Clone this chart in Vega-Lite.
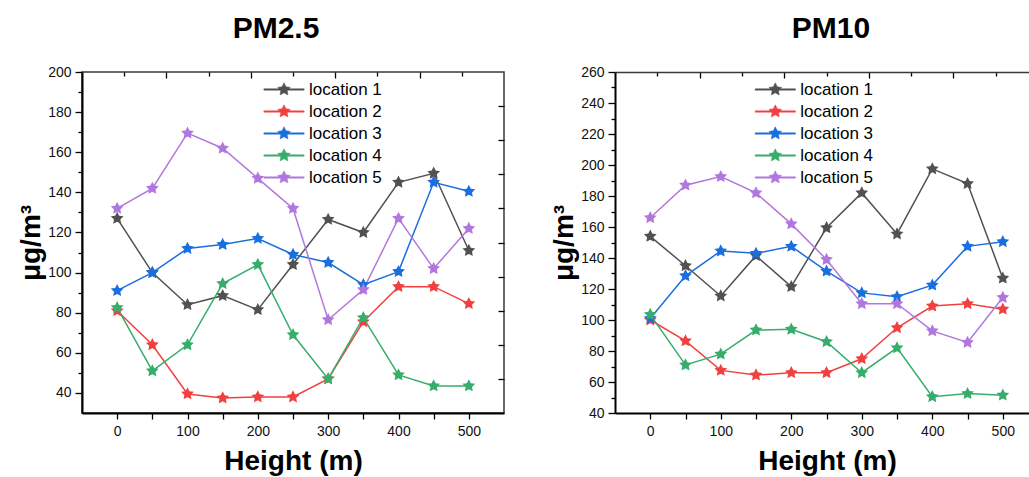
{
  "$schema": "https://vega.github.io/schema/vega-lite/v6.json",
  "padding": {"left": 16, "top": 12, "right": 0, "bottom": 0},
  "background": "white",
  "config": {
    "font": "Liberation Sans",
    "view": {"stroke": "#3a3a3a", "strokeWidth": 1.5},
    "axis": {"grid": false, "labelFont": "Liberation Sans", "labelFontSize": 14, "labelColor": "#111", "titleFont": "Liberation Sans", "titleFontSize": 28, "titleFontWeight": "bold", "titleColor": "black", "domainColor": "black", "domainWidth": 2, "tickColor": "black", "tickWidth": 1.3},
    "legend": {"labelFont": "Liberation Sans", "labelFontSize": 17, "labelColor": "black"},
    "title": {"font": "Liberation Sans", "fontSize": 30, "fontWeight": "bold", "color": "black", "baseline": "alphabetic"}
  },
  "datasets": {
    "pm25": [
      {"h": 0, "loc": "location 1", "v": 127}, {"h": 50, "loc": "location 1", "v": 100}, {"h": 100, "loc": "location 1", "v": 84}, {"h": 150, "loc": "location 1", "v": 88.5}, {"h": 200, "loc": "location 1", "v": 81.5}, {"h": 250, "loc": "location 1", "v": 104}, {"h": 300, "loc": "location 1", "v": 126.5}, {"h": 350, "loc": "location 1", "v": 120}, {"h": 400, "loc": "location 1", "v": 145}, {"h": 450, "loc": "location 1", "v": 149.5}, {"h": 500, "loc": "location 1", "v": 111},
      {"h": 0, "loc": "location 2", "v": 81}, {"h": 50, "loc": "location 2", "v": 64}, {"h": 100, "loc": "location 2", "v": 39.5}, {"h": 150, "loc": "location 2", "v": 37.5}, {"h": 200, "loc": "location 2", "v": 38}, {"h": 250, "loc": "location 2", "v": 38}, {"h": 300, "loc": "location 2", "v": 47}, {"h": 350, "loc": "location 2", "v": 75.5}, {"h": 400, "loc": "location 2", "v": 93}, {"h": 450, "loc": "location 2", "v": 93}, {"h": 500, "loc": "location 2", "v": 84.5},
      {"h": 0, "loc": "location 3", "v": 91}, {"h": 50, "loc": "location 3", "v": 100}, {"h": 100, "loc": "location 3", "v": 112}, {"h": 150, "loc": "location 3", "v": 114}, {"h": 200, "loc": "location 3", "v": 117}, {"h": 250, "loc": "location 3", "v": 109}, {"h": 300, "loc": "location 3", "v": 105}, {"h": 350, "loc": "location 3", "v": 94}, {"h": 400, "loc": "location 3", "v": 100.5}, {"h": 450, "loc": "location 3", "v": 145}, {"h": 500, "loc": "location 3", "v": 140.5},
      {"h": 0, "loc": "location 4", "v": 82.5}, {"h": 50, "loc": "location 4", "v": 51}, {"h": 100, "loc": "location 4", "v": 64}, {"h": 150, "loc": "location 4", "v": 94.5}, {"h": 200, "loc": "location 4", "v": 104}, {"h": 250, "loc": "location 4", "v": 69}, {"h": 300, "loc": "location 4", "v": 47}, {"h": 350, "loc": "location 4", "v": 77.5}, {"h": 400, "loc": "location 4", "v": 49}, {"h": 450, "loc": "location 4", "v": 43.5}, {"h": 500, "loc": "location 4", "v": 43.5},
      {"h": 0, "loc": "location 5", "v": 132}, {"h": 50, "loc": "location 5", "v": 142}, {"h": 100, "loc": "location 5", "v": 169.5}, {"h": 150, "loc": "location 5", "v": 162}, {"h": 200, "loc": "location 5", "v": 147}, {"h": 250, "loc": "location 5", "v": 132}, {"h": 300, "loc": "location 5", "v": 76.5}, {"h": 350, "loc": "location 5", "v": 91.5}, {"h": 400, "loc": "location 5", "v": 127}, {"h": 450, "loc": "location 5", "v": 102}, {"h": 500, "loc": "location 5", "v": 122}
    ],
    "pm10": [
      {"h": 0, "loc": "location 1", "v": 154}, {"h": 50, "loc": "location 1", "v": 135}, {"h": 100, "loc": "location 1", "v": 115.5}, {"h": 150, "loc": "location 1", "v": 141.5}, {"h": 200, "loc": "location 1", "v": 121.5}, {"h": 250, "loc": "location 1", "v": 159.5}, {"h": 300, "loc": "location 1", "v": 182}, {"h": 350, "loc": "location 1", "v": 155.5}, {"h": 400, "loc": "location 1", "v": 197.5}, {"h": 450, "loc": "location 1", "v": 188}, {"h": 500, "loc": "location 1", "v": 127},
      {"h": 0, "loc": "location 2", "v": 100}, {"h": 50, "loc": "location 2", "v": 86.5}, {"h": 100, "loc": "location 2", "v": 67.5}, {"h": 150, "loc": "location 2", "v": 64.5}, {"h": 200, "loc": "location 2", "v": 66}, {"h": 250, "loc": "location 2", "v": 66}, {"h": 300, "loc": "location 2", "v": 75}, {"h": 350, "loc": "location 2", "v": 95}, {"h": 400, "loc": "location 2", "v": 109}, {"h": 450, "loc": "location 2", "v": 110.5}, {"h": 500, "loc": "location 2", "v": 107},
      {"h": 0, "loc": "location 3", "v": 101}, {"h": 50, "loc": "location 3", "v": 128.5}, {"h": 100, "loc": "location 3", "v": 144.5}, {"h": 150, "loc": "location 3", "v": 143}, {"h": 200, "loc": "location 3", "v": 147.5}, {"h": 250, "loc": "location 3", "v": 131.5}, {"h": 300, "loc": "location 3", "v": 117.5}, {"h": 350, "loc": "location 3", "v": 115}, {"h": 400, "loc": "location 3", "v": 122.5}, {"h": 450, "loc": "location 3", "v": 147.5}, {"h": 500, "loc": "location 3", "v": 150.5},
      {"h": 0, "loc": "location 4", "v": 103.5}, {"h": 50, "loc": "location 4", "v": 71}, {"h": 100, "loc": "location 4", "v": 78}, {"h": 150, "loc": "location 4", "v": 93.5}, {"h": 200, "loc": "location 4", "v": 94}, {"h": 250, "loc": "location 4", "v": 86}, {"h": 300, "loc": "location 4", "v": 66}, {"h": 350, "loc": "location 4", "v": 82}, {"h": 400, "loc": "location 4", "v": 50.5}, {"h": 450, "loc": "location 4", "v": 52.5}, {"h": 500, "loc": "location 4", "v": 51.5},
      {"h": 0, "loc": "location 5", "v": 166}, {"h": 50, "loc": "location 5", "v": 187}, {"h": 100, "loc": "location 5", "v": 192.5}, {"h": 150, "loc": "location 5", "v": 182}, {"h": 200, "loc": "location 5", "v": 162}, {"h": 250, "loc": "location 5", "v": 139}, {"h": 300, "loc": "location 5", "v": 110.5}, {"h": 350, "loc": "location 5", "v": 110.5}, {"h": 400, "loc": "location 5", "v": 93}, {"h": 450, "loc": "location 5", "v": 85.5}, {"h": 500, "loc": "location 5", "v": 114.5}
    ]
  },
  "resolve": {"scale": {"color": "independent"}, "legend": {"color": "independent"}},
  "spacing": 44,
  "hconcat": [
    {
      "width": 422,
      "height": 341,
      "title": {"text": "PM2.5", "offset": 21.5, "dx": -17},
      "data": {"name": "pm25"},
      "resolve": {"axis": {"x": "independent", "y": "independent"}},
      "layer": [
        {
          "mark": {"type": "line", "strokeWidth": 1.5},
          "encoding": {
            "x": {"field": "h", "type": "quantitative", "scale": {"domain": [-50, 550], "nice": false, "zero": false},
                  "axis": {"orient": "bottom", "title": "Height (m)", "values": [0, 50, 100, 150, 200, 250, 300, 350, 400, 450, 500], "labelExpr": "datum.value % 100 == 0 ? datum.label : ''", "tickSize": 6, "labelPadding": 5, "titlePadding": 9}},
            "y": {"field": "v", "type": "quantitative", "scale": {"domain": [30, 200], "nice": false, "zero": false},
                  "axis": {"orient": "left", "title": "μg/m³", "values": [40, 50, 60, 70, 80, 90, 100, 110, 120, 130, 140, 150, 160, 170, 180, 190, 200], "labelExpr": "datum.value % 20 == 0 ? datum.label : ''", "tickSize": {"condition": {"test": "datum.value % 20 == 0", "value": 7}, "value": 4}, "labelPadding": 4, "titlePadding": 2}},
            "color": {"field": "loc", "type": "nominal", "scale": {"domain": ["location 1", "location 2", "location 3", "location 4", "location 5"], "range": ["#515151", "#F14040", "#1A6FDF", "#37AD6B", "#B177DE"]},
                      "legend": {"title": null, "orient": "none", "legendX": 193.5, "legendY": 9, "rowPadding": 4, "labelOffset": 16.5, "symbolSize": 180, "symbolStrokeWidth": 0.5, "symbolType": "M-3,-0.1L3,-0.1L3,0.1L-3,0.1Z M0,-1L0.294,-0.405L0.951,-0.309L0.476,0.155L0.588,0.809L0,0.5L-0.588,0.809L-0.476,0.155L-0.951,-0.309L-0.294,-0.405Z"}}
          }
        },
        {
          "mark": {"type": "point", "filled": true, "opacity": 1, "size": 180, "strokeWidth": 0.5, "shape": "M0,-1L0.294,-0.405L0.951,-0.309L0.476,0.155L0.588,0.809L0,0.5L-0.588,0.809L-0.476,0.155L-0.951,-0.309L-0.294,-0.405Z"},
          "encoding": {
            "x": {"field": "h", "type": "quantitative", "axis": {"orient": "top", "title": null, "labels": false, "domain": false, "values": [10, 70, 130, 190, 250, 310, 370, 430, 490], "tickSize": {"condition": {"test": "(datum.value + 50) % 120 == 0", "value": -6}, "value": -4}}},
            "y": {"field": "v", "type": "quantitative", "axis": {"orient": "right", "title": null, "labels": false, "domain": false, "values": [47, 64, 81, 98, 115, 132, 149, 166, 183], "tickSize": -6}},
            "color": {"field": "loc", "type": "nominal"}
          }
        }
      ]
    },
    {
      "width": 416,
      "height": 341,
      "view": {"stroke": null},
      "title": {"text": "PM10", "offset": 21.5, "dx": 8},
      "data": {"name": "pm10"},
      "resolve": {"axis": {"x": "independent", "y": "independent"}},
      "layer": [
        {
          "mark": {"type": "line", "strokeWidth": 1.5},
          "encoding": {
            "x": {"field": "h", "type": "quantitative", "scale": {"domain": [-50, 540], "nice": false, "zero": false},
                  "axis": {"orient": "bottom", "title": "Height (m)", "titleX": 212, "values": [0, 50, 100, 150, 200, 250, 300, 350, 400, 450, 500], "labelExpr": "datum.value % 100 == 0 ? datum.label : ''", "tickSize": 6, "labelPadding": 5, "titlePadding": 9}},
            "y": {"field": "v", "type": "quantitative", "scale": {"domain": [40, 260], "nice": false, "zero": false},
                  "axis": {"orient": "left", "title": "μg/m³", "values": [40, 50, 60, 70, 80, 90, 100, 110, 120, 130, 140, 150, 160, 170, 180, 190, 200, 210, 220, 230, 240, 250, 260], "labelExpr": "datum.value % 20 == 0 ? datum.label : ''", "tickSize": {"condition": {"test": "datum.value % 20 == 0", "value": 7}, "value": 4}, "labelPadding": 4, "titlePadding": 2}},
            "color": {"field": "loc", "type": "nominal", "scale": {"domain": ["location 1", "location 2", "location 3", "location 4", "location 5"], "range": ["#515151", "#F14040", "#1A6FDF", "#37AD6B", "#B177DE"]},
                      "legend": {"title": null, "orient": "none", "legendX": 151.8, "legendY": 9, "rowPadding": 4, "labelOffset": 16.5, "symbolSize": 180, "symbolStrokeWidth": 0.5, "symbolType": "M-3,-0.1L3,-0.1L3,0.1L-3,0.1Z M0,-1L0.294,-0.405L0.951,-0.309L0.476,0.155L0.588,0.809L0,0.5L-0.588,0.809L-0.476,0.155L-0.951,-0.309L-0.294,-0.405Z"}}
          }
        },
        {
          "mark": {"type": "point", "filled": true, "opacity": 1, "size": 180, "strokeWidth": 0.5, "shape": "M0,-1L0.294,-0.405L0.951,-0.309L0.476,0.155L0.588,0.809L0,0.5L-0.588,0.809L-0.476,0.155L-0.951,-0.309L-0.294,-0.405Z"},
          "encoding": {
            "x": {"field": "h", "type": "quantitative", "axis": {"orient": "top", "title": null, "labels": false, "domain": true, "domainColor": "#3a3a3a", "domainWidth": 1.5, "values": [10, 70, 130, 190, 250, 310, 370, 430, 490], "tickSize": {"condition": {"test": "(datum.value + 50) % 120 == 0", "value": -6}, "value": -4}}},
            "y": {"field": "v", "type": "quantitative", "axis": {"orient": "right", "title": null, "labels": false, "domain": false, "ticks": false, "values": [62, 84, 106, 128, 150, 172, 194, 216, 238]}},
            "color": {"field": "loc", "type": "nominal"}
          }
        }
      ]
    }
  ]
}
